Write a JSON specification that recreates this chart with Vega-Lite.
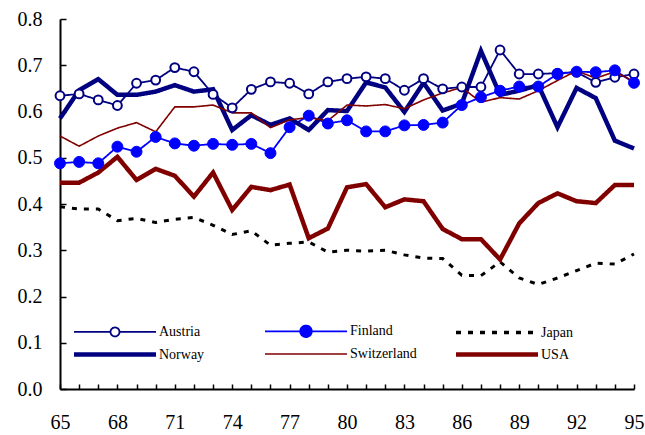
{
 "$schema": "https://vega.github.io/schema/vega-lite/v6.json",
 "width": 574,
 "height": 370,
 "autosize": "none",
 "padding": {"left": 60, "top": 19, "right": 11, "bottom": 46},
 "background": "white",
 "config": {
  "view": {"stroke": null},
  "font": "Liberation Serif",
  "axis": {"grid": false, "title": null, "domainColor": "black", "domainWidth": 2, "tickColor": "black", "tickWidth": 1.5, "labelColor": "black", "labelFont": "Liberation Serif", "labelFontSize": 20, "labelOverlap": false, "labelFlush": false},
  "legend": {"orient": "none", "direction": "horizontal", "legendX": 14, "legendY": 305, "columns": 3, "gridAlign": "all", "columnPadding": 30, "rowPadding": 4, "padding": 0, "labelFont": "Liberation Serif", "labelFontSize": 14, "labelColor": "black", "labelOffset": 70, "symbolSize": 100, "symbolOpacity": 1, "symbolFillColor": "white", "symbolStrokeColor": "black", "labelLimit": 200}
 },
 "data": {"values": [
  {"year":65,"country":"Austria","value":0.634},{"year":66,"country":"Austria","value":0.638},{"year":67,"country":"Austria","value":0.625},{"year":68,"country":"Austria","value":0.613},{"year":69,"country":"Austria","value":0.661},{"year":70,"country":"Austria","value":0.668},{"year":71,"country":"Austria","value":0.695},{"year":72,"country":"Austria","value":0.686},{"year":73,"country":"Austria","value":0.637},{"year":74,"country":"Austria","value":0.608},{"year":75,"country":"Austria","value":0.648},{"year":76,"country":"Austria","value":0.664},{"year":77,"country":"Austria","value":0.661},{"year":78,"country":"Austria","value":0.638},{"year":79,"country":"Austria","value":0.664},{"year":80,"country":"Austria","value":0.671},{"year":81,"country":"Austria","value":0.675},{"year":82,"country":"Austria","value":0.671},{"year":83,"country":"Austria","value":0.646},{"year":84,"country":"Austria","value":0.671},{"year":85,"country":"Austria","value":0.649},{"year":86,"country":"Austria","value":0.653},{"year":87,"country":"Austria","value":0.653},{"year":88,"country":"Austria","value":0.733},{"year":89,"country":"Austria","value":0.681},{"year":90,"country":"Austria","value":0.681},{"year":91,"country":"Austria","value":0.683},{"year":92,"country":"Austria","value":0.685},{"year":93,"country":"Austria","value":0.663},{"year":94,"country":"Austria","value":0.674},{"year":95,"country":"Austria","value":0.681},
  {"year":65,"country":"Finland","value":0.488},{"year":66,"country":"Finland","value":0.491},{"year":67,"country":"Finland","value":0.488},{"year":68,"country":"Finland","value":0.524},{"year":69,"country":"Finland","value":0.513},{"year":70,"country":"Finland","value":0.545},{"year":71,"country":"Finland","value":0.531},{"year":72,"country":"Finland","value":0.526},{"year":73,"country":"Finland","value":0.530},{"year":74,"country":"Finland","value":0.528},{"year":75,"country":"Finland","value":0.530},{"year":76,"country":"Finland","value":0.510},{"year":77,"country":"Finland","value":0.566},{"year":78,"country":"Finland","value":0.591},{"year":79,"country":"Finland","value":0.574},{"year":80,"country":"Finland","value":0.581},{"year":81,"country":"Finland","value":0.557},{"year":82,"country":"Finland","value":0.557},{"year":83,"country":"Finland","value":0.570},{"year":84,"country":"Finland","value":0.571},{"year":85,"country":"Finland","value":0.576},{"year":86,"country":"Finland","value":0.614},{"year":87,"country":"Finland","value":0.631},{"year":88,"country":"Finland","value":0.645},{"year":89,"country":"Finland","value":0.654},{"year":90,"country":"Finland","value":0.654},{"year":91,"country":"Finland","value":0.681},{"year":92,"country":"Finland","value":0.686},{"year":93,"country":"Finland","value":0.685},{"year":94,"country":"Finland","value":0.689},{"year":95,"country":"Finland","value":0.662},
  {"year":65,"country":"Japan","value":0.394},{"year":66,"country":"Japan","value":0.389},{"year":67,"country":"Japan","value":0.389},{"year":68,"country":"Japan","value":0.364},{"year":69,"country":"Japan","value":0.369},{"year":70,"country":"Japan","value":0.360},{"year":71,"country":"Japan","value":0.367},{"year":72,"country":"Japan","value":0.371},{"year":73,"country":"Japan","value":0.354},{"year":74,"country":"Japan","value":0.334},{"year":75,"country":"Japan","value":0.342},{"year":76,"country":"Japan","value":0.311},{"year":77,"country":"Japan","value":0.315},{"year":78,"country":"Japan","value":0.318},{"year":79,"country":"Japan","value":0.296},{"year":80,"country":"Japan","value":0.300},{"year":81,"country":"Japan","value":0.298},{"year":82,"country":"Japan","value":0.300},{"year":83,"country":"Japan","value":0.290},{"year":84,"country":"Japan","value":0.283},{"year":85,"country":"Japan","value":0.282},{"year":86,"country":"Japan","value":0.246},{"year":87,"country":"Japan","value":0.245},{"year":88,"country":"Japan","value":0.275},{"year":89,"country":"Japan","value":0.240},{"year":90,"country":"Japan","value":0.226},{"year":91,"country":"Japan","value":0.240},{"year":92,"country":"Japan","value":0.256},{"year":93,"country":"Japan","value":0.272},{"year":94,"country":"Japan","value":0.270},{"year":95,"country":"Japan","value":0.292},
  {"year":65,"country":"Norway","value":0.585},{"year":66,"country":"Norway","value":0.646},{"year":67,"country":"Norway","value":0.670},{"year":68,"country":"Norway","value":0.636},{"year":69,"country":"Norway","value":0.636},{"year":70,"country":"Norway","value":0.643},{"year":71,"country":"Norway","value":0.657},{"year":72,"country":"Norway","value":0.643},{"year":73,"country":"Norway","value":0.648},{"year":74,"country":"Norway","value":0.560},{"year":75,"country":"Norway","value":0.592},{"year":76,"country":"Norway","value":0.571},{"year":77,"country":"Norway","value":0.585},{"year":78,"country":"Norway","value":0.560},{"year":79,"country":"Norway","value":0.603},{"year":80,"country":"Norway","value":0.601},{"year":81,"country":"Norway","value":0.663},{"year":82,"country":"Norway","value":0.652},{"year":83,"country":"Norway","value":0.599},{"year":84,"country":"Norway","value":0.662},{"year":85,"country":"Norway","value":0.602},{"year":86,"country":"Norway","value":0.617},{"year":87,"country":"Norway","value":0.731},{"year":88,"country":"Norway","value":0.636},{"year":89,"country":"Norway","value":0.645},{"year":90,"country":"Norway","value":0.657},{"year":91,"country":"Norway","value":0.566},{"year":92,"country":"Norway","value":0.651},{"year":93,"country":"Norway","value":0.629},{"year":94,"country":"Norway","value":0.537},{"year":95,"country":"Norway","value":0.520},
  {"year":65,"country":"Switzerland","value":0.547},{"year":66,"country":"Switzerland","value":0.525},{"year":67,"country":"Switzerland","value":0.547},{"year":68,"country":"Switzerland","value":0.564},{"year":69,"country":"Switzerland","value":0.576},{"year":70,"country":"Switzerland","value":0.556},{"year":71,"country":"Switzerland","value":0.610},{"year":72,"country":"Switzerland","value":0.610},{"year":73,"country":"Switzerland","value":0.614},{"year":74,"country":"Switzerland","value":0.597},{"year":75,"country":"Switzerland","value":0.597},{"year":76,"country":"Switzerland","value":0.565},{"year":77,"country":"Switzerland","value":0.582},{"year":78,"country":"Switzerland","value":0.587},{"year":79,"country":"Switzerland","value":0.580},{"year":80,"country":"Switzerland","value":0.614},{"year":81,"country":"Switzerland","value":0.612},{"year":82,"country":"Switzerland","value":0.615},{"year":83,"country":"Switzerland","value":0.606},{"year":84,"country":"Switzerland","value":0.625},{"year":85,"country":"Switzerland","value":0.640},{"year":86,"country":"Switzerland","value":0.652},{"year":87,"country":"Switzerland","value":0.620},{"year":88,"country":"Switzerland","value":0.630},{"year":89,"country":"Switzerland","value":0.627},{"year":90,"country":"Switzerland","value":0.645},{"year":91,"country":"Switzerland","value":0.667},{"year":92,"country":"Switzerland","value":0.688},{"year":93,"country":"Switzerland","value":0.672},{"year":94,"country":"Switzerland","value":0.686},{"year":95,"country":"Switzerland","value":0.665},
  {"year":65,"country":"USA","value":0.446},{"year":66,"country":"USA","value":0.446},{"year":67,"country":"USA","value":0.468},{"year":68,"country":"USA","value":0.502},{"year":69,"country":"USA","value":0.452},{"year":70,"country":"USA","value":0.476},{"year":71,"country":"USA","value":0.461},{"year":72,"country":"USA","value":0.416},{"year":73,"country":"USA","value":0.468},{"year":74,"country":"USA","value":0.387},{"year":75,"country":"USA","value":0.437},{"year":76,"country":"USA","value":0.430},{"year":77,"country":"USA","value":0.442},{"year":78,"country":"USA","value":0.326},{"year":79,"country":"USA","value":0.347},{"year":80,"country":"USA","value":0.436},{"year":81,"country":"USA","value":0.443},{"year":82,"country":"USA","value":0.393},{"year":83,"country":"USA","value":0.410},{"year":84,"country":"USA","value":0.406},{"year":85,"country":"USA","value":0.346},{"year":86,"country":"USA","value":0.324},{"year":87,"country":"USA","value":0.324},{"year":88,"country":"USA","value":0.280},{"year":89,"country":"USA","value":0.358},{"year":90,"country":"USA","value":0.402},{"year":91,"country":"USA","value":0.423},{"year":92,"country":"USA","value":0.406},{"year":93,"country":"USA","value":0.402},{"year":94,"country":"USA","value":0.441},{"year":95,"country":"USA","value":0.441}
 ]},
 "encoding": {
  "x": {"field": "year", "type": "quantitative", "scale": {"domain": [65, 95], "nice": false, "zero": false},
        "axis": {"values": [65,66,67,68,69,70,71,72,73,74,75,76,77,78,79,80,81,82,83,84,85,86,87,88,89,90,91,92,93,94,95], "format": "d", "labelExpr": "(datum.value - 65) % 3 === 0 ? datum.label : ''", "tickSize": -5, "labelPadding": 28}},
  "y": {"field": "value", "type": "quantitative", "scale": {"domain": [0, 0.8], "nice": false},
        "axis": {"values": [0,0.1,0.2,0.3,0.4,0.5,0.6,0.7,0.8], "format": ".1f", "tickSize": -6, "labelPadding": 24}}
 },
 "layer": [
  {
   "mark": {"type": "line", "clip": false},
   "encoding": {
    "stroke": {"field": "country", "type": "nominal", "legend": null, "scale": {"domain": ["Austria","Finland","Japan","Norway","Switzerland","USA"], "range": ["#000080","#0000FF","#000000","#000080","#800000","#800000"]}},
    "strokeWidth": {"field": "country", "type": "nominal", "legend": null, "scale": {"type": "ordinal", "domain": ["Austria","Finland","Japan","Norway","Switzerland","USA"], "range": [1.8, 1.8, 3, 4.5, 1.6, 4.5]}},
    "strokeDash": {"field": "country", "type": "nominal", "legend": null, "scale": {"domain": ["Austria","Finland","Japan","Norway","Switzerland","USA"], "range": [[1,0],[1,0],[5,7],[1,0],[1,0],[1,0]]}}
   }
  },
  {
   "transform": [{"filter": "datum.country === 'Austria' || datum.country === 'Finland'"}],
   "mark": {"type": "point", "opacity": 1, "clip": false},
   "encoding": {
    "stroke": {"field": "country", "type": "nominal", "legend": null, "scale": {"domain": ["Austria","Finland"], "range": ["#000080","#0000FF"]}},
    "fill": {"field": "country", "type": "nominal", "legend": null, "scale": {"domain": ["Austria","Finland"], "range": ["#FFFFFF","#0000FF"]}},
    "size": {"field": "country", "type": "nominal", "legend": null, "scale": {"type": "ordinal", "domain": ["Austria","Finland"], "range": [78, 120]}},
    "strokeWidth": {"field": "country", "type": "nominal", "legend": null, "scale": {"type": "ordinal", "domain": ["Austria","Finland"], "range": [2, 1]}}
   }
  },
  {
   "mark": {"type": "point", "opacity": 0},
   "encoding": {
    "shape": {"field": "country", "type": "nominal", "title": null, "legend": {"gridAlign": "all", "columnPadding": 30, "rowPadding": 4, "columns": 3, "direction": "horizontal"}, "scale": {"domain": ["Austria","Finland","Japan","Norway","Switzerland","USA"], "range": ["M-1.5,0H5.8M7.6,0H14.9M5.8,0A0.9,0.9,0,1,1,7.6,0A0.9,0.9,0,1,1,5.8,0Z","M-1.5,0H14.9M5.55,0A1.15,1.15,0,1,1,7.85,0A1.15,1.15,0,1,1,5.55,0Z","M-1.5,0H14.9","M-1.5,0H14.9","M-1.5,0H14.9","M-1.5,0H14.9"]}},
    "stroke": {"field": "country", "type": "nominal", "title": null, "scale": {"domain": ["Austria","Finland","Japan","Norway","Switzerland","USA"], "range": ["#000080","#0000FF","#000000","#000080","#800000","#800000"]}},
    "fill": {"field": "country", "type": "nominal", "title": null, "scale": {"domain": ["Austria","Finland","Japan","Norway","Switzerland","USA"], "range": ["#FFFFFF","#0000FF","#FFFFFF","#FFFFFF","#FFFFFF","#FFFFFF"]}},
    "strokeWidth": {"field": "country", "type": "nominal", "title": null, "scale": {"type": "ordinal", "domain": ["Austria","Finland","Japan","Norway","Switzerland","USA"], "range": [1.8, 1.8, 3.5, 4.5, 1.6, 4.5]}},
    "strokeDash": {"field": "country", "type": "nominal", "title": null, "scale": {"domain": ["Austria","Finland","Japan","Norway","Switzerland","USA"], "range": [[1,0],[1,0],[5,7],[1,0],[1,0],[1,0]]}}
   }
  }
 ],
 "resolve": {"scale": {"stroke": "independent", "fill": "independent", "strokeWidth": "independent", "strokeDash": "independent", "shape": "independent", "size": "independent"}}
}
